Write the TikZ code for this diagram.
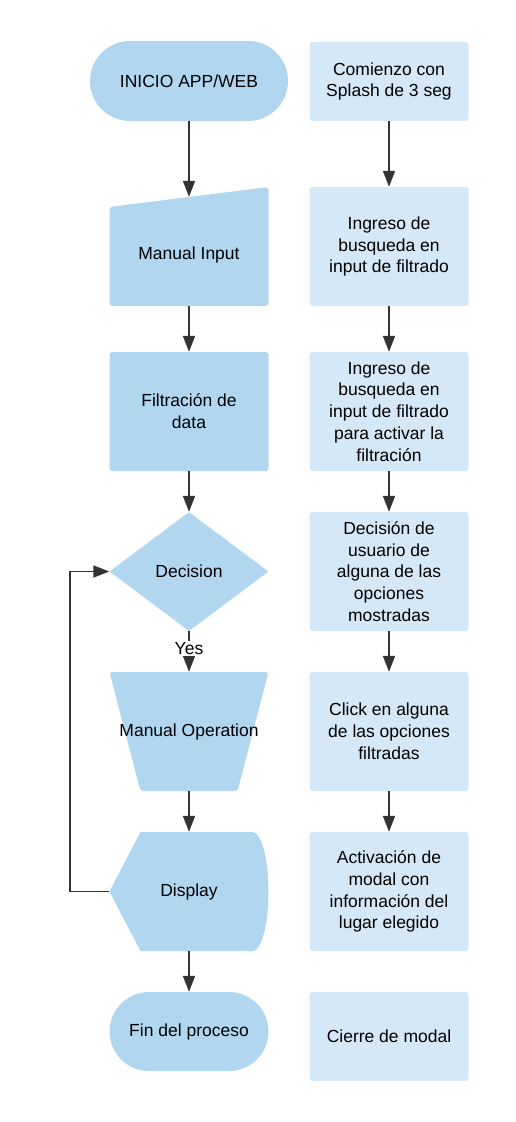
\documentclass[tikz,border=0pt]{standalone}
\usepackage{fontspec}
\setmainfont{Liberation Sans}
\usepackage{tikz}
\usetikzlibrary{arrows.meta, shapes.geometric, shapes.misc, positioning}

\definecolor{shapeblue}{RGB}{177,214,240}
\definecolor{noteblue}{RGB}{213,232,247}
\definecolor{lineGray}{RGB}{51,51,51}

\begin{document}
\begin{tikzpicture}[x=1pt, y=-1pt,
  font=\fontsize{17.5}{21.8}\selectfont,
  every node/.style={align=center, inner sep=0pt},
  terminal/.style={rounded rectangle, fill=shapeblue},
  procbox/.style={rectangle, rounded corners=3pt, fill=shapeblue, minimum width=159pt, minimum height=119pt},
  plainbox/.style={rectangle, minimum width=159pt, minimum height=119pt},
  notebox/.style={rectangle, rounded corners=3pt, fill=noteblue, minimum width=159pt, minimum height=119pt},
  flow/.style={draw=lineGray, line width=1.8pt, -{Triangle[length=16pt, width=12pt]}}
]
\useasboundingbox (0,0) rectangle (516,1122);

% left column: the flow itself
\node[terminal, minimum width=198pt, minimum height=80pt] (start) at (189,81) {INICIO APP/WEB};
\node[plainbox, path picture={
  \fill[shapeblue, rounded corners=3pt] (path picture bounding box.south west) -- (path picture bounding box.south east)
    -- (path picture bounding box.north east) -- ([yshift=-20pt]path picture bounding box.north west) -- cycle;}]
  (inp) at (189,246.5) {\raisebox{-8pt}[\height][\depth]{Manual Input}};
\node[procbox] (filt) at (189,411.5) {Filtración de\\data};
\node[diamond, fill=shapeblue, aspect=1.336, minimum width=159pt, minimum height=119pt] (dec) at (189,571.5) {Decision};
\node[plainbox, path picture={
  \fill[shapeblue, rounded corners=3pt] (path picture bounding box.north west) -- (path picture bounding box.north east)
    -- ([xshift=-31pt]path picture bounding box.south east) -- ([xshift=31pt]path picture bounding box.south west) -- cycle;}]
  (oper) at (189,731.5) {Manual Operation};
\node[plainbox, path picture={
  \fill[shapeblue] ([xshift=31pt]path picture bounding box.north west) -- ([xshift=-16pt]path picture bounding box.north east)
    arc[start angle=90, end angle=-90, x radius=16pt, y radius=59.5pt]
    -- ([xshift=31pt]path picture bounding box.south west) -- (path picture bounding box.west) -- cycle;}]
  (disp) at (189,891.5) {Display};
\node[terminal, minimum width=159pt, minimum height=79pt] (fin) at (189,1031.5) {Fin del proceso};

% right column: notes
\node[notebox, minimum height=79pt] (n1) at (389,81.5) {Comienzo con\\Splash de 3 seg};
\node[notebox] (n2) at (389,246.5) {Ingreso de\\busqueda en\\input de filtrado};
\node[notebox] (n3) at (389,411.5) {Ingreso de\\busqueda en\\input de filtrado\\para activar la\\filtración};
\node[notebox] (n4) at (389,571.5) {Decisión de\\usuario de\\alguna de las\\opciones\\mostradas};
\node[notebox] (n5) at (389,731.5) {Click en alguna\\de las opciones\\filtradas};
\node[notebox] (n6) at (389,891.5) {Activación de\\modal con\\información del\\lugar elegido};
\node[notebox, minimum height=89pt] (n7) at (389,1036.5) {Cierre de modal};

% connectors
\draw[flow] (start) -- ([yshift=-10pt]inp.north);
\draw[flow] (inp) -- (filt);
\draw[flow] (filt) -- (dec);
\draw[flow] (dec) -- (oper) node[pos=0.42, fill=white, inner sep=1.5pt] (yes) {Yes};
\draw[flow] (oper) -- (disp);
\draw[flow] (disp) -- (fin);
\draw[flow] (disp.west) -- ++(-39,0) |- (dec.west);

\draw[flow] (n1) -- (n2);
\draw[flow] (n2) -- (n3);
\draw[flow] (n3) -- (n4);
\draw[flow] (n4) -- (n5);
\draw[flow] (n5) -- (n6);

\end{tikzpicture}
\end{document}
